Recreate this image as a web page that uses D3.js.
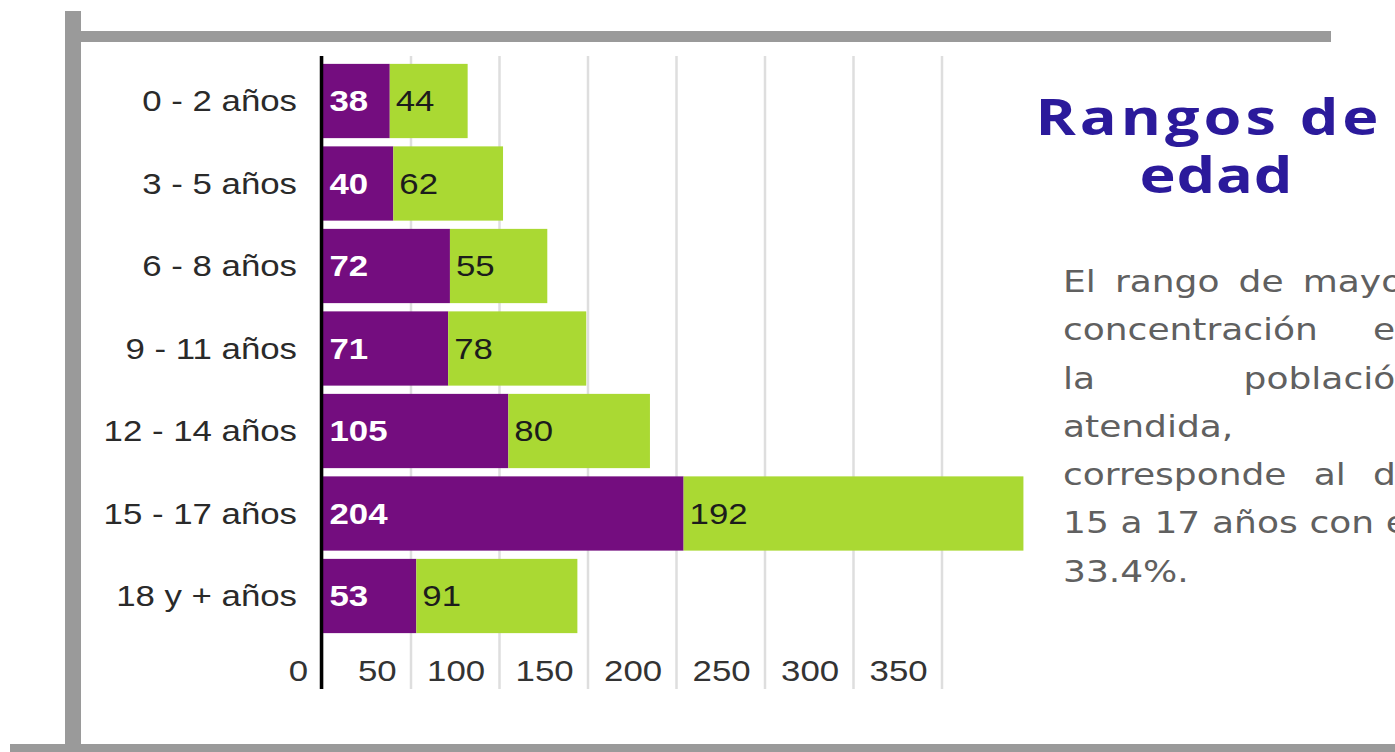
<!DOCTYPE html>
<html>
<head>
<meta charset="utf-8">
<script src="https://cdn.jsdelivr.net/npm/d3@7"></script>
<style>
  html, body { margin: 0; padding: 0; background: #fff; overflow: hidden; }
</style>
</head>
<body>
<div id="chart"></div>
<script>
// Data
const categories = ['0 - 2 años', '3 - 5 años', '6 - 8 años', '9 - 11 años', '12 - 14 años', '15 - 17 años', '18 y + años'];
const purpleValues = [38, 40, 72, 71, 105, 204, 53];
const greenValues = [44, 62, 55, 78, 80, 192, 91];
const xTicks = [0, 50, 100, 150, 200, 250, 300, 350];

const titleLines = ['Rangos de', 'edad'];
const paragraphLines = [
  { text: 'El rango de mayor', justify: true },
  { text: 'concentración en', justify: true },
  { text: 'la población', justify: true },
  { text: 'atendida,', justify: false },
  { text: 'corresponde al de', justify: true },
  { text: '15 a 17 años con el', justify: true },
  { text: '33.4%.', justify: false }
];

const width = 1395, height = 752;
const SX = 1.2; // the whole slide is stretched horizontally
const sx = v => v / SX; // screen px -> view units

const purple = '#740d7f';
const green = '#aad933';
const frameGrey = '#9a9a9a';

const svg = d3.select('#chart')
  .append('svg')
  .attr('width', width)
  .attr('height', height)
  .attr('viewBox', `0 0 ${width / SX} ${height}`)
  .attr('preserveAspectRatio', 'none')
  .style('display', 'block');

// Grey frame
svg.append('rect').attr('x', sx(65)).attr('y', 11).attr('width', sx(16)).attr('height', height - 11).attr('fill', frameGrey);
svg.append('rect').attr('x', sx(81)).attr('y', 31).attr('width', sx(1331 - 81)).attr('height', 11).attr('fill', frameGrey);
svg.append('rect').attr('x', sx(10)).attr('y', 744).attr('width', sx(width - 10)).attr('height', 8).attr('fill', frameGrey);

// Scales
const x = d3.scaleLinear().domain([0, 350]).range([sx(322.5), sx(942)]);
const y = d3.scaleBand().domain(categories).range([59.75, 637.25]).paddingInner(0.1).paddingOuter(0.05);

const gridTop = 56, gridBottom = 689;

// Gridlines
svg.append('g')
  .selectAll('line')
  .data(xTicks)
  .join('line')
  .attr('x1', d => x(d))
  .attr('x2', d => x(d))
  .attr('y1', gridTop)
  .attr('y2', gridBottom)
  .attr('stroke', '#dedede')
  .attr('stroke-width', sx(2.5));

// Stacked bars
const rows = categories.map((c, i) => ({ cat: c, a: purpleValues[i], b: greenValues[i] }));

const barG = svg.append('g');
barG.selectAll('rect.purple')
  .data(rows)
  .join('rect')
  .attr('class', 'purple')
  .attr('x', x(0))
  .attr('y', d => y(d.cat))
  .attr('width', d => x(d.a) - x(0))
  .attr('height', y.bandwidth())
  .attr('fill', purple);

barG.selectAll('rect.green')
  .data(rows)
  .join('rect')
  .attr('class', 'green')
  .attr('x', d => x(d.a))
  .attr('y', d => y(d.cat))
  .attr('width', d => x(d.a + d.b) - x(d.a))
  .attr('height', y.bandwidth())
  .attr('fill', green);

// Value labels
const labelFont = '"Liberation Sans", Arial, sans-serif';
barG.selectAll('text.purple-label')
  .data(rows)
  .join('text')
  .attr('class', 'purple-label')
  .attr('x', x(0) + sx(7))
  .attr('y', d => y(d.cat) + y.bandwidth() / 2)
  .attr('dy', '0.36em')
  .attr('font-family', labelFont)
  .attr('font-size', 29)
  .attr('font-weight', 'bold')
  .attr('fill', '#ffffff')
  .text(d => d.a);

barG.selectAll('text.green-label')
  .data(rows)
  .join('text')
  .attr('class', 'green-label')
  .attr('x', d => x(d.a) + sx(6))
  .attr('y', d => y(d.cat) + y.bandwidth() / 2)
  .attr('dy', '0.36em')
  .attr('font-family', labelFont)
  .attr('font-size', 29)
  .attr('fill', '#1c1c1c')
  .text(d => d.b);

// Axis line at zero
svg.append('line')
  .attr('x1', x(0) - sx(1))
  .attr('x2', x(0) - sx(1))
  .attr('y1', gridTop)
  .attr('y2', gridBottom)
  .attr('stroke', '#000')
  .attr('stroke-width', sx(3.5));

// Category labels
svg.append('g')
  .selectAll('text')
  .data(categories)
  .join('text')
  .attr('x', sx(297))
  .attr('y', d => y(d) + y.bandwidth() / 2)
  .attr('dy', '0.36em')
  .attr('text-anchor', 'end')
  .attr('font-family', labelFont)
  .attr('font-size', 29)
  .attr('fill', '#2a2a2a')
  .text(d => d);

// Bottom tick labels (sit just left of each gridline)
const xAxis = svg.append('g')
  .attr('transform', 'translate(0, 681)')
  .call(d3.axisBottom(x).tickValues(xTicks).tickSize(0).tickFormat(d3.format('d')));
xAxis.select('.domain').remove();
xAxis.selectAll('text')
  .attr('y', 0)
  .attr('dy', null)
  .attr('x', -sx(15))
  .attr('text-anchor', 'end')
  .attr('font-family', labelFont)
  .attr('font-size', 29)
  .attr('fill', '#333');

// Title
const titleFont = '"Open Sans", "DejaVu Sans", sans-serif';
const titlePos = [{ cx: 1207, y: 135, w: 343 }, { cx: 1216, y: 193, w: 153 }];
svg.append('g')
  .selectAll('text')
  .data(titleLines)
  .join('text')
  .attr('x', (d, i) => sx(titlePos[i].cx))
  .attr('y', (d, i) => titlePos[i].y)
  .attr('text-anchor', 'middle')
  .attr('font-family', titleFont)
  .attr('font-size', 51)
  .attr('font-weight', 'bold')
  .attr('fill', '#2b1a9b')
  .attr('textLength', (d, i) => sx(titlePos[i].w))
  .attr('lengthAdjust', 'spacing')
  .text(d => d);

// Justified paragraph, clipped by the right edge of the page
const paraLeft = sx(1063), paraRight = sx(1418);
const paraTop = 292, paraStep = 48.3;
const paraG = svg.append('g')
  .attr('font-family', '"DejaVu Sans", sans-serif')
  .attr('font-size', 30)
  .attr('fill', '#606060');

paragraphLines.forEach((line, i) => {
  const words = line.text.split(' ');
  const yPos = paraTop + i * paraStep;
  const nodes = words.map(w => paraG.append('text').attr('y', yPos).text(w));
  const widths = nodes.map(n => n.node().getComputedTextLength());
  const total = d3.sum(widths);
  let gap = 0.32 * 30;
  if (line.justify && words.length > 1) gap = (paraRight - paraLeft - total) / (words.length - 1);
  let cursor = paraLeft;
  nodes.forEach((n, j) => {
    n.attr('x', cursor);
    cursor += widths[j] + gap;
  });
});
</script>
</body>
</html>
